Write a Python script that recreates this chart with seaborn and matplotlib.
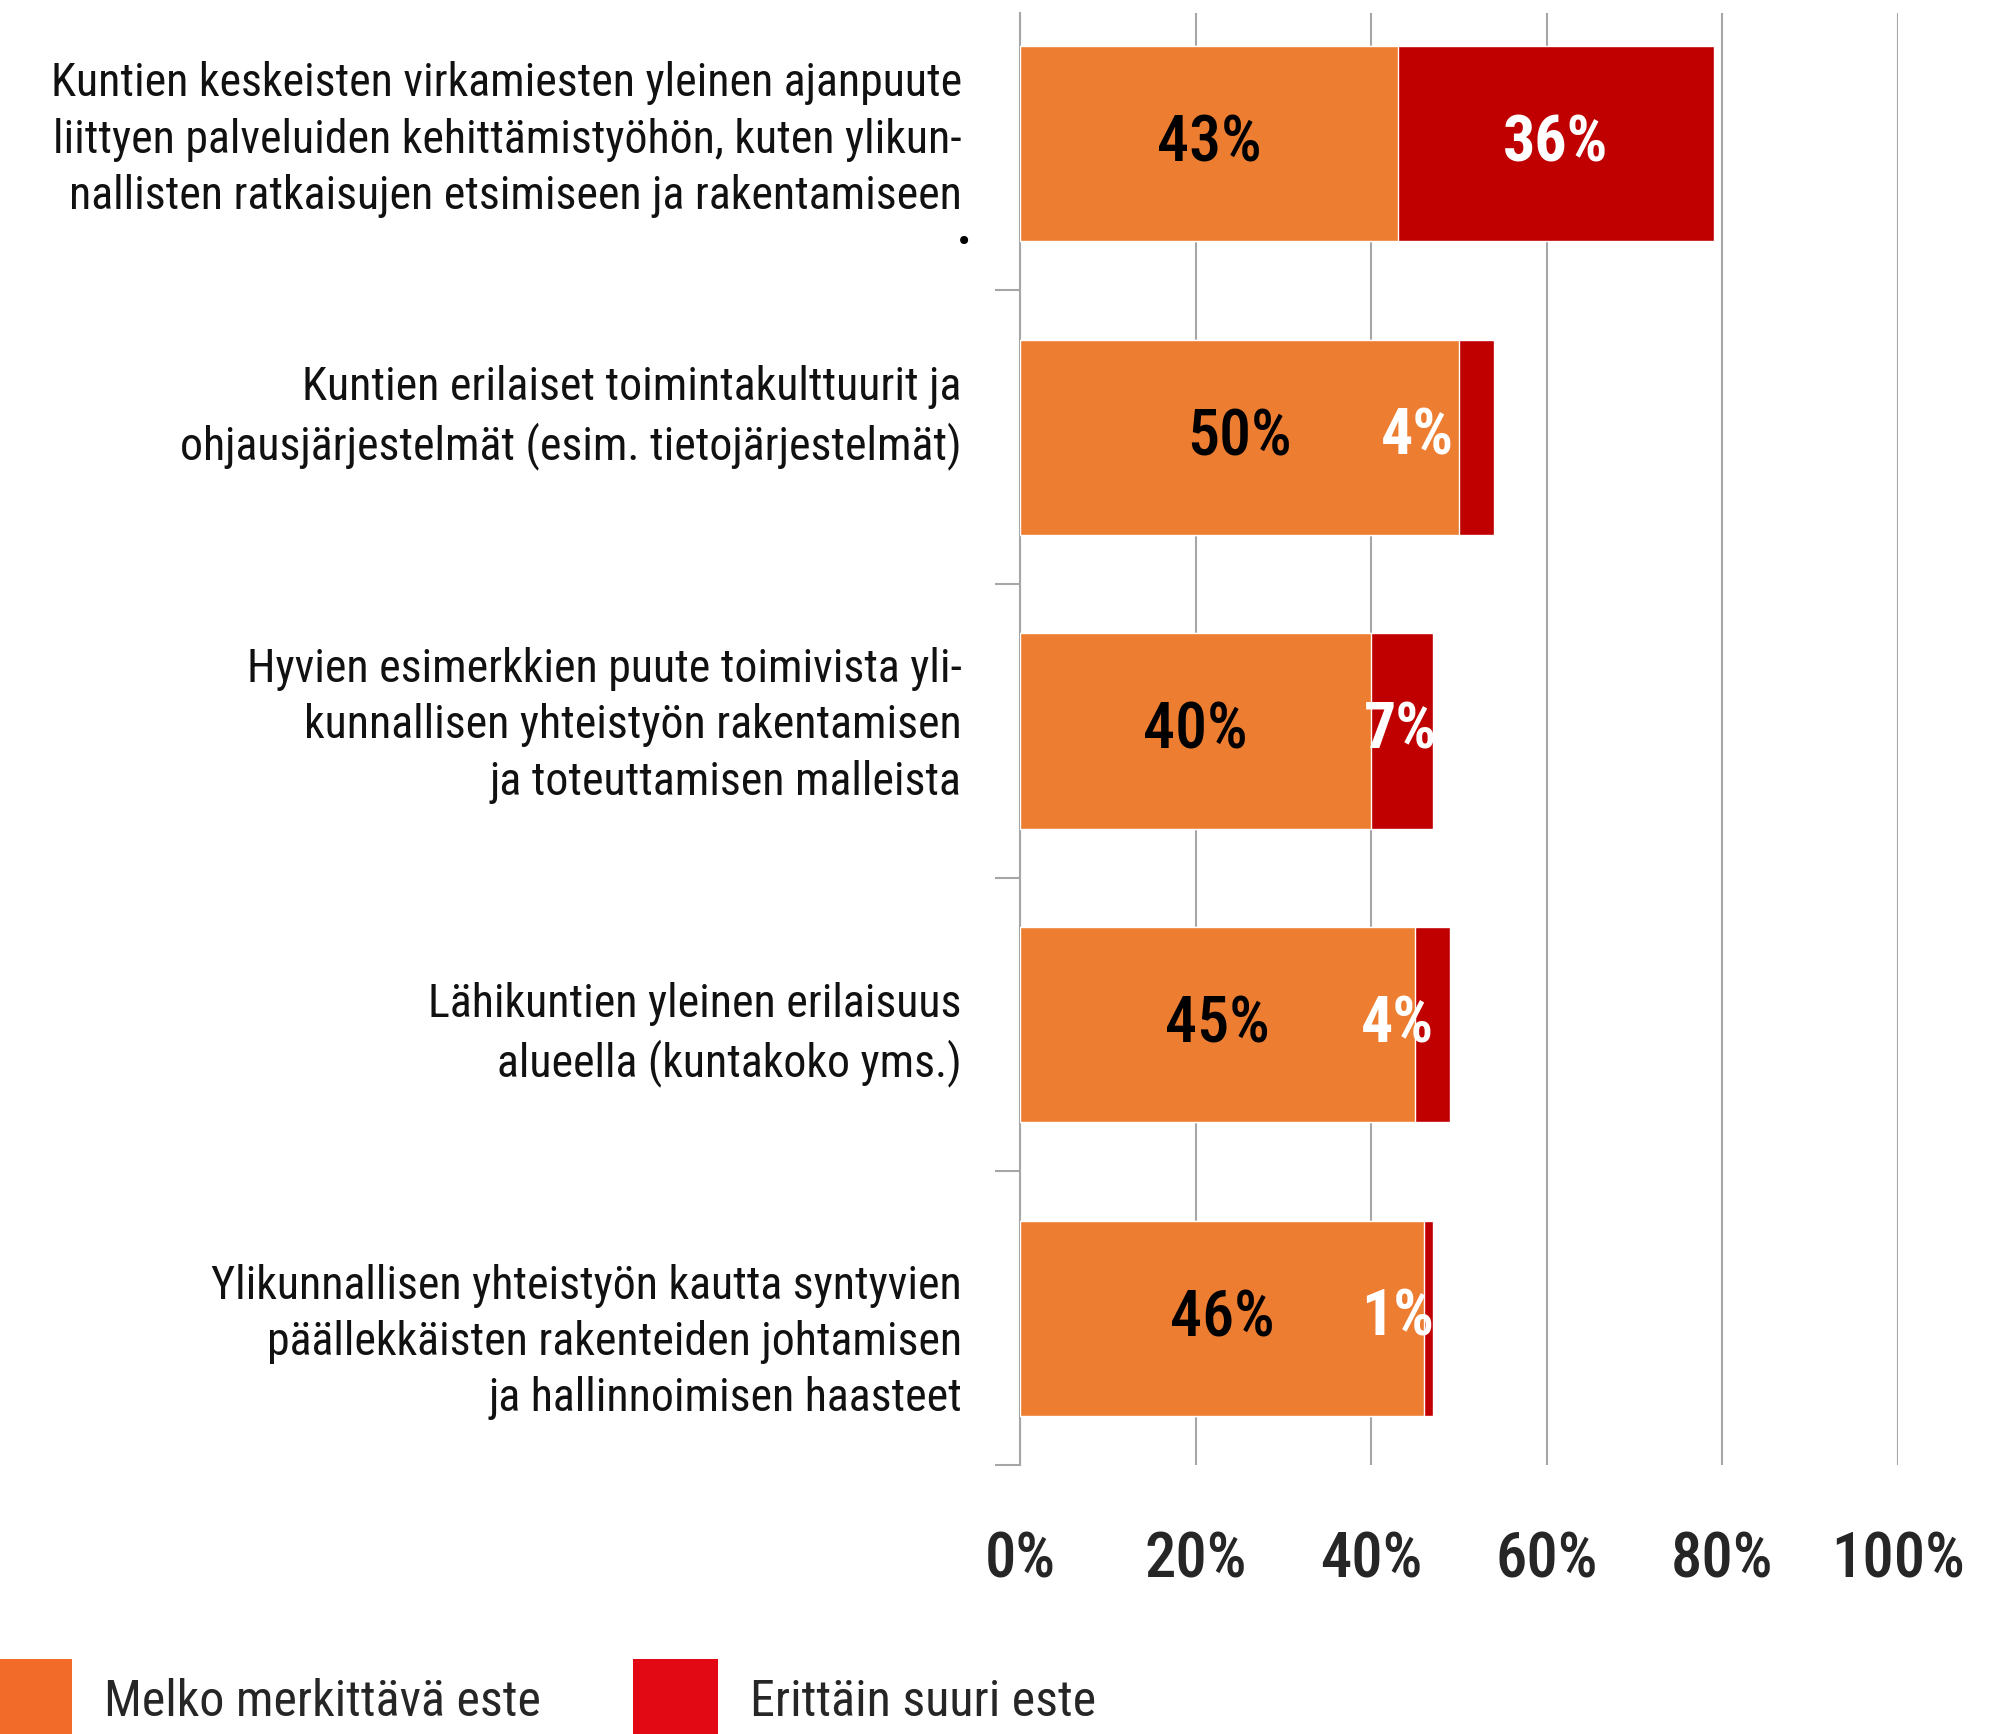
import matplotlib
matplotlib.use("Agg")
import matplotlib.pyplot as plt
import seaborn as sns
import pandas as pd
from matplotlib import font_manager
from matplotlib.patches import Patch

# --- data -------------------------------------------------------------
categories = [
    "Kuntien keskeisten virkamiesten yleinen ajanpuute\n"
    "liittyen palveluiden kehittämistyöhön, kuten ylikun-\n"
    "nallisten ratkaisujen etsimiseen ja rakentamiseen",
    "Kuntien erilaiset toimintakulttuurit ja\n"
    "ohjausjärjestelmät (esim. tietojärjestelmät)",
    "Hyvien esimerkkien puute toimivista yli-\n"
    "kunnallisen yhteistyön rakentamisen\n"
    "ja toteuttamisen malleista",
    "Lähikuntien yleinen erilaisuus\n"
    "alueella (kuntakoko yms.)",
    "Ylikunnallisen yhteistyön kautta syntyvien\n"
    "päällekkäisten rakenteiden johtamisen\n"
    "ja hallinnoimisen haasteet",
]
melko = [43, 50, 40, 45, 46]       # Melko merkittävä este
erittain = [36, 4, 7, 4, 1]        # Erittäin suuri este
x_ticks = [0, 20, 40, 60, 80, 100]
legend_labels = ["Melko merkittävä este", "Erittäin suuri este"]

# label positions as in the original (red value x in data units,
# vertical nudge of the category labels in points)
red_label_x = [61, 45.3, 43.3, 43.0, 43.0]
cat_label_dy = [3, 14, 4, -7, -17]

ORANGE = "#ED7D31"
RED = "#C00000"
LEG_ORANGE = "#F26B28"
LEG_RED = "#E30914"

# --- font -------------------------------------------------------------
sns.set_theme(style="white")
available = {f.name for f in font_manager.fontManager.ttflist}
family = "DejaVu Sans"
for cand in ["Roboto Condensed", "Liberation Sans Narrow", "Open Sans Condensed", "DejaVu Sans"]:
    if cand in available:
        family = cand
        break
plt.rcParams["font.family"] = [family, "DejaVu Sans"]
if family == "DejaVu Sans":
    plt.rcParams["font.stretch"] = "condensed"

df = pd.DataFrame({"kategoria": categories, "melko": melko, "erittain": erittain})
df["yht"] = df["melko"] + df["erittain"]

fig = plt.figure(figsize=(19.99, 17.34), dpi=100)
ax = fig.add_axes([0.5103, 0.1551, 0.4392, 0.8374])

sns.barplot(data=df, x="yht", y="kategoria", color=RED, width=0.665,
            saturation=1, ax=ax, zorder=3)
sns.barplot(data=df, x="melko", y="kategoria", color=ORANGE, width=0.665,
            saturation=1, ax=ax, zorder=4)

ax.set_xlim(0, 100)
ax.set_ylim(len(categories) - 0.5, -0.445)
ax.set_xticks(x_ticks)
ax.set_xticklabels([f"{t}%" for t in x_ticks], fontsize=45, fontweight="medium")
ax.tick_params(axis="x", length=0, pad=47)
ax.set_xlabel("")
ax.set_ylabel("")

ax.grid(axis="x", color="#A6A6A6", linewidth=1.5, zorder=0)
for s in ["top", "right", "bottom"]:
    ax.spines[s].set_visible(False)
ax.spines["left"].set_color("#A6A6A6")
ax.spines["left"].set_linewidth(1.5)

# category labels drawn next to the axis, boundaries as small ticks
ax.set_yticks(range(len(categories)))
ax.set_yticklabels([])
ax.tick_params(axis="y", length=0)
ax.set_yticks([i + 0.5 for i in range(len(categories))], minor=True)
ax.tick_params(axis="y", which="minor", length=18, width=1.5, color="#A6A6A6", left=True)

for i, lab in enumerate(categories):
    ax.annotate(lab, xy=(0, i), xycoords=("axes fraction", "data"),
                xytext=(-42, cat_label_dy[i]), textcoords="offset points",
                ha="right", va="center", multialignment="right",
                fontsize=33, linespacing=1.35, color="#111111",
                annotation_clip=False)

# stray full stop under the first label (present in the original)
ax.annotate(".", xy=(0, 0.34), xycoords="data", xytext=(-35, 0),
            textcoords="offset points", ha="right", va="baseline",
            fontsize=36, fontweight="bold", color="black", annotation_clip=False)

# value labels
for i, (m, e) in enumerate(zip(melko, erittain)):
    ax.text(m / 2, i, f"{m}%", ha="center", va="center", fontsize=46,
            fontweight="medium", color="black", zorder=5)
    ax.text(red_label_x[i], i, f"{e}%", ha="center", va="center", fontsize=46,
            fontweight="bold", color="white", zorder=5)

handles = [Patch(facecolor=LEG_ORANGE, edgecolor="none"),
           Patch(facecolor=LEG_RED, edgecolor="none")]
fig.legend(handles, legend_labels, loc="lower left", bbox_to_anchor=(-0.0065, -0.004),
           ncol=2, frameon=False, fontsize=36, handlelength=1.7, handleheight=2.15,
           handletextpad=0.64, columnspacing=1.84, borderpad=0, borderaxespad=0)

fig.savefig("out.png", dpi=100)
